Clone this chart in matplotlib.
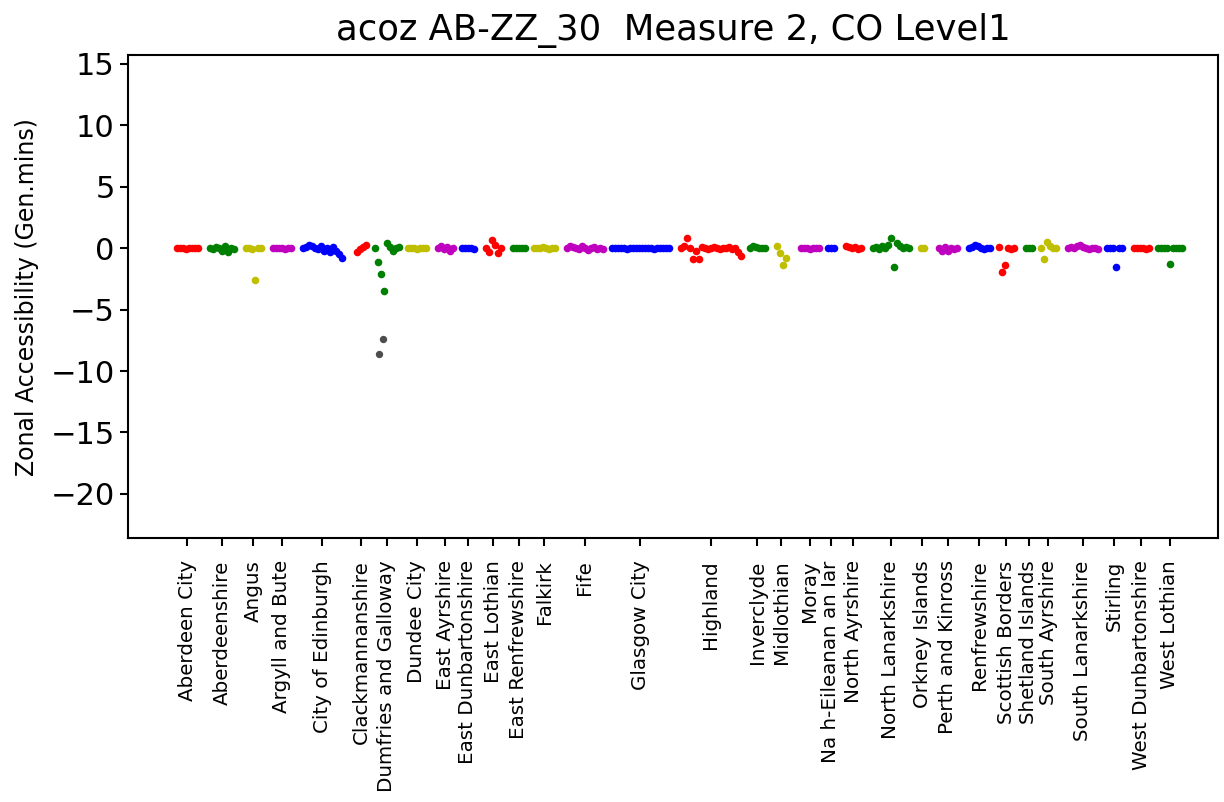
import matplotlib
matplotlib.use("Agg")
import matplotlib.pyplot as plt
import numpy as np

# council areas, in plotting order
councils = ["Aberdeen City", "Aberdeenshire", "Angus", "Argyll and Bute",
            "City of Edinburgh", "Clackmannanshire", "Dumfries and Galloway",
            "Dundee City", "East Ayrshire", "East Dunbartonshire", "East Lothian",
            "East Renfrewshire", "Falkirk", "Fife", "Glasgow City", "Highland",
            "Inverclyde", "Midlothian", "Moray", "Na h-Eileanan an Iar",
            "North Ayrshire", "North Lanarkshire", "Orkney Islands",
            "Perth and Kinross", "Renfrewshire", "Scottish Borders",
            "Shetland Islands", "South Ayrshire", "South Lanarkshire", "Stirling",
            "West Dunbartonshire", "West Lothian"]

# first zone index of each council
zone_start = [0, 11, 23, 32, 42, 60, 66, 77, 87, 95, 103, 112, 119, 130, 145,
              168, 191, 200, 208, 217, 223, 232, 248, 254, 264, 274, 283, 288,
              297, 310, 319, 327]

# zonal accessibility change (gen. mins) for each zone
acc = [
    [0.0, 0.05, 0.0, -0.05, 0.0, 0.0, 0.05, 0.0],
    [0.0, -0.1, 0.1, 0.0, -0.2, 0.15, -0.3, 0.0, -0.1],
    [0.0, 0.0, -0.1, -2.6, 0.0, 0.05],
    [0.0, 0.0, 0.05, 0.0, -0.05, 0.0, 0.0],
    [0.0, 0.1, 0.3, 0.2, 0.0, -0.1, 0.15, -0.2, 0.0, -0.3, 0.1, -0.2, -0.5, -0.8],
    [-0.3, -0.1, 0.1, 0.3],
    [0.0, -1.1, -2.1, -3.5, 0.4, 0.1, -0.2, 0.0, 0.1],
    [0.0, 0.05, 0.0, -0.05, 0.0, 0.0, 0.0],
    [0.0, 0.2, -0.1, 0.1, -0.2, 0.0],
    [0.0, 0.05, 0.0, 0.0, -0.05],
    [0.0, -0.3, 0.7, 0.3, -0.4, 0.0],
    [0.0, 0.0, 0.05, 0.0, 0.0],
    [0.0, 0.05, 0.0, 0.1, 0.0, -0.05, 0.05, 0.0],
    [0.0, 0.15, 0.1, 0.0, -0.1, 0.2, 0.0, -0.15, 0.0, 0.1, -0.1, 0.0, -0.05],
    [0.0, 0.0, 0.05, 0.0, 0.0, -0.05, 0.0, 0.0, 0.0, 0.05, 0.0, 0.0, 0.0, 0.0,
     -0.05, 0.0, 0.0, 0.0, 0.05, 0.0],
    [0.0, 0.2, 0.8, 0.0, -0.9, -0.2, -0.9, 0.1, 0.0, -0.1, 0.0, 0.1, 0.0, -0.1,
     0.0, 0.0, 0.1, -0.1, 0.0, -0.3, -0.6],
    [0.0, 0.2, 0.1, 0.0, 0.0, 0.0],
    [0.2, -0.4, -1.4, -0.8],
    [0.0, 0.05, 0.0, -0.05, 0.0, 0.0, 0.05],
    [0.0, 0.05, 0.0],
    [0.2, 0.1, 0.0, 0.1, -0.1, 0.0],
    [0.0, 0.1, -0.1, 0.2, 0.0, 0.3, 0.8, -1.5, 0.4, 0.2, 0.0, 0.1, 0.0],
    [0.0, 0.0],
    [0.0, -0.2, 0.1, -0.2, 0.0, -0.1, 0.0],
    [0.0, 0.1, 0.3, 0.2, 0.0, -0.1, 0.0, 0.0],
    [0.1, -1.9, -1.4, 0.0, -0.1, 0.0],
    [0.0, 0.0, 0.0],
    [0.0, -0.9, 0.5, 0.2, 0.0, 0.0],
    [0.0, 0.1, 0.0, 0.2, 0.3, 0.1, 0.0, -0.1, 0.0, 0.0, -0.05],
    [0.0, 0.0, 0.05, -1.5, 0.0, 0.0],
    [0.0, 0.05, 0.0, 0.0, -0.05, 0.0],
    [0.0, 0.0, 0.05, 0.0, -1.3, 0.0, 0.0, 0.05, 0.0],
]

# two darker points in Dumfries and Galloway
dark_zone = [68.7, 67.3]
dark_acc = [-7.4, -8.6]

colours = ['r', 'g', 'y', 'm', 'b']

fig = plt.figure(figsize=(12.24, 8.02), dpi=100)
ax = fig.add_axes([0.1046, 0.329, 0.8904, 0.602])

tick_pos = []
for i, vals in enumerate(acc):
    xs = zone_start[i] + np.arange(len(vals))
    ax.scatter(xs, vals, s=30, c=colours[i % 5], linewidths=0)
    tick_pos.append(xs.mean())
ax.scatter(dark_zone, dark_acc, s=28, c='0.3', linewidths=0)

ax.set_xlim(-16.3, 347)
ax.set_ylim(-23.6, 15.7)
ax.set_yticks(np.arange(-20, 16, 5))
ax.set_xticks(tick_pos)
ax.set_xticklabels(councils, rotation=90, fontsize=14.3)
ax.tick_params(axis='y', labelsize=22, length=6, width=1.5)
ax.tick_params(axis='x', length=6, width=1.5, pad=10)
for sp in ax.spines.values():
    sp.set_linewidth(1.5)
ax.set_ylabel("Zonal Accessibility (Gen.mins)", fontsize=17, labelpad=8)
ax.set_title("acoz AB-ZZ_30  Measure 2, CO Level1", fontsize=25.5, pad=11)

fig.savefig("out.png", dpi=100)
